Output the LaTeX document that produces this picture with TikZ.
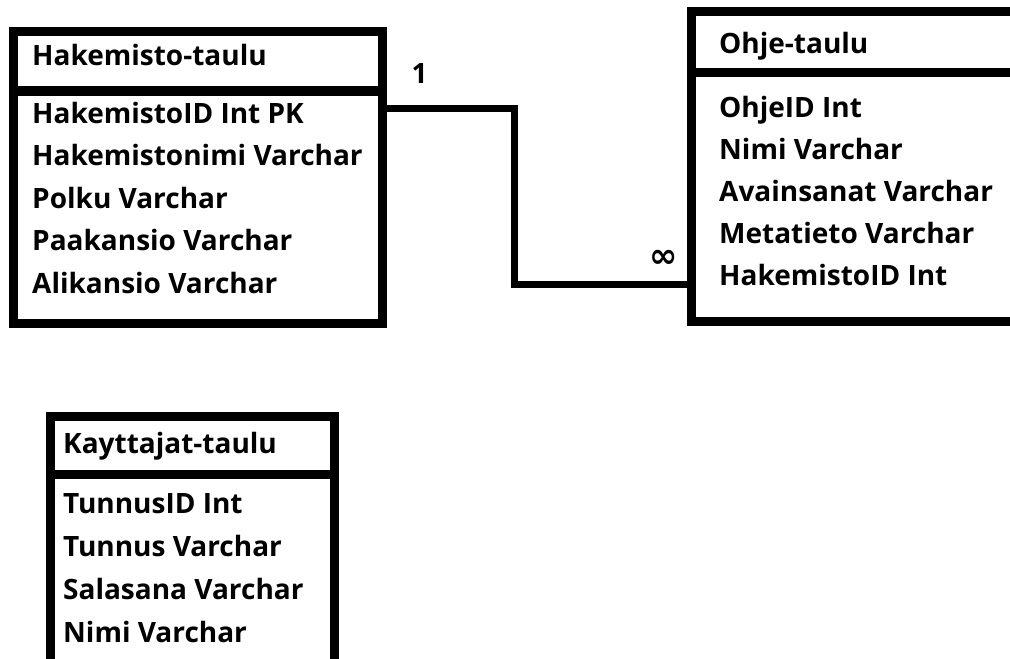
\documentclass[tikz,border=0pt]{standalone}
\usepackage{fontspec}
\setmainfont{Open Sans}
\newfontfamily\symfont{DejaVu Sans}
\usetikzlibrary{calc}
\tikzset{
  frame/.style={draw=black, line width=9pt, inner sep=0pt, outer sep=0pt, rectangle},
  sep/.style={line width=9.5pt},
  link/.style={line width=7pt},
  field/.style={anchor=base west, inner sep=0pt, font=\fontsize{28}{32}\selectfont\bfseries},
  card/.style={inner sep=0pt, font=\fontsize{28}{32}\selectfont\bfseries}
}
\begin{document}
\begin{tikzpicture}[x=1pt, y=-1pt]
\useasboundingbox (0,0) rectangle (1010,659);
\clip (0,0) rectangle (1010,659);

% Hakemisto-taulu
\node[frame, minimum width=369pt, minimum height=292pt] (hak) at (198,177.5) {};
\draw[sep] (hak.west |- 0,91) -- (hak.east |- 0,91);
\node[field] (hakT) at (32,65) {Hakemisto-taulu};
\node[field] (hak1) at (32,123) {HakemistoID Int PK};
\node[field] (hak2) at (32,165.5) {Hakemistonimi Varchar};
\node[field] (hak3) at (32,208) {Polku Varchar};
\node[field] (hak4) at (32,250.5) {Paakansio Varchar};
\node[field] (hak5) at (32,293) {Alikansio Varchar};

% Ohje-taulu (runs past the right edge)
\node[frame, minimum width=340pt, minimum height=309.5pt] (ohj) at (861,166.25) {};
\draw[sep] (ohj.west |- 0,72.5) -- (ohj.east |- 0,72.5);
\node[field] (ohjT) at (719,53) {Ohje-taulu};
\node[field] (ohj1) at (719,117) {OhjeID Int};
\node[field] (ohj2) at (719,159) {Nimi Varchar};
\node[field] (ohj3) at (719,201) {Avainsanat Varchar};
\node[field] (ohj4) at (719,243) {Metatieto Varchar};
\node[field] (ohj5) at (719,285) {HakemistoID Int};

% Kayttajat-taulu (runs past the bottom edge)
\node[frame, minimum width=284.5pt, minimum height=270pt] (kay) at (192.25,551) {};
\draw[sep] (kay.west |- 0,474.5) -- (kay.east |- 0,474.5);
\node[field] (kayT) at (63,453) {Kayttajat-taulu};
\node[field] (kay1) at (63,513) {TunnusID Int};
\node[field] (kay2) at (63,556) {Tunnus Varchar};
\node[field] (kay3) at (63,599) {Salasana Varchar};
\node[field] (kay4) at (63,642) {Nimi Varchar};

% one-to-many relation between the two tables
\coordinate (relA) at (hak.east |- 0,108.5);
\coordinate (relB) at (ohj.west |- 0,284);
\draw[link] (relA) -| ([xshift=131.5pt]relA) |- (relB);
\node[card] (one) at (419.5,74) {1};
\node[card, font=\fontsize{34}{36}\selectfont\symfont\bfseries] (many) at (664,259) {∞};
\end{tikzpicture}
\end{document}
